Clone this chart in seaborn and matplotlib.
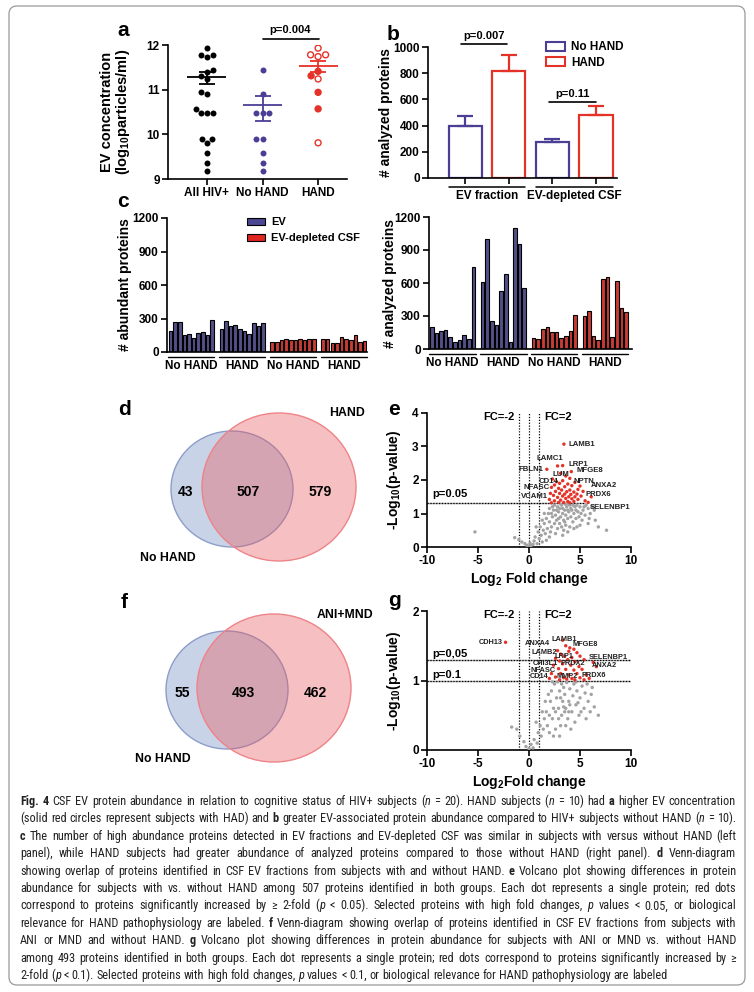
import re
import numpy as np
import pandas as pd
import matplotlib
matplotlib.use('Agg')
import matplotlib.pyplot as plt
import seaborn as sns
from matplotlib import font_manager
from matplotlib.patches import Ellipse, Patch, FancyBboxPatch

# ---------------- data ----------------
# a: EV concentration, log10 particles/ml
a_groups = ['All HIV+', 'No HAND', 'HAND']
a_all = [11.93, 11.78, 11.74, 11.78, 11.43, 11.39, 11.30, 11.24, 10.94, 10.90,
         10.57, 10.48, 10.47, 10.48, 9.89, 9.89, 9.81, 9.59, 9.36, 9.17]
a_nohand = [11.43, 10.90, 10.48, 10.47, 10.48, 9.89, 9.89, 9.59, 9.36, 9.17]
a_hand = [11.93, 11.78, 11.74, 11.78, 11.41, 11.31, 11.24, 10.94, 10.57, 9.81]
a_hand_had = [False, False, False, False, True, True, False, True, True, False]

# b: analyzed proteins, mean and SEM
b_fractions = ['EV fraction', 'EV-depleted CSF']
b_nohand_mean = [400, 278]
b_nohand_sem = [75, 22]
b_hand_mean = [815, 478]
b_hand_sem = [125, 74]

# c: per subject protein counts
c_groups = ['No HAND', 'HAND', 'No HAND', 'HAND']
c_abund_ev_nohand = [185, 265, 265, 150, 159, 124, 168, 176, 150, 291]
c_abund_ev_hand = [203, 282, 229, 238, 203, 185, 159, 256, 229, 256]
c_abund_csf_nohand = [87, 87, 105, 114, 105, 105, 114, 105, 114, 120]
c_abund_csf_hand = [114, 114, 78, 78, 132, 114, 105, 150, 94, 102]
c_anal_ev_nohand = [200, 145, 164, 173, 106, 67, 82, 127, 91, 745]
c_anal_ev_hand = [609, 1000, 255, 221, 527, 682, 67, 1100, 958, 555]
c_anal_csf_nohand = [100, 91, 182, 200, 155, 155, 100, 118, 164, 309]
c_anal_csf_hand = [300, 345, 118, 82, 639, 655, 109, 618, 373, 336]

# d, f: venn counts (left only, shared, right only)
d_sets = ['No HAND', 'HAND']
d_counts = [43, 507, 579]
f_sets = ['No HAND', 'ANI+MND']
f_counts = [55, 493, 462]

# e: volcano HAND vs No HAND  (log2 FC, -log10 p)
e_ns = [(-5.3, 0.45), (-1.4, 0.28), (-1.0, 0.22), (-0.7, 0.15), (-0.4, 0.1), (-0.2, 0.05),
        (0.0, 0.02), (0.2, 0.04), (0.4, 0.08), (0.1, 0.12), (0.5, 0.18), (0.8, 0.1),
        (0.6, 0.3), (1.0, 0.25), (1.2, 0.35), (0.9, 0.45), (1.4, 0.5), (1.1, 0.6),
        (1.6, 0.4), (1.5, 0.7), (1.8, 0.55), (1.7, 0.85), (2.0, 0.75), (1.9, 1.0),
        (2.1, 0.45), (2.3, 0.9), (2.2, 0.6), (2.4, 1.1), (2.5, 0.7), (2.6, 0.95),
        (2.5, 1.25), (2.8, 0.55), (2.7, 0.8), (2.9, 1.05), (2.8, 1.2), (3.0, 0.7),
        (3.1, 0.9), (3.0, 1.15), (3.2, 0.6), (3.3, 1.0), (3.2, 1.25), (3.4, 0.8),
        (3.5, 1.1), (3.4, 0.5), (3.6, 0.95), (3.7, 1.2), (3.6, 0.65), (3.8, 0.85),
        (3.9, 1.05), (4.0, 0.6), (4.0, 1.25), (4.1, 0.9), (4.2, 1.1), (4.3, 0.75),
        (4.4, 1.0), (4.5, 1.2), (4.6, 0.85), (4.7, 0.6), (4.8, 1.05), (4.9, 0.9),
        (5.0, 1.2), (5.2, 0.8), (5.3, 1.1), (5.5, 0.95), (5.6, 1.25), (5.8, 1.15),
        (6.0, 1.0), (6.2, 1.2), (6.5, 0.8), (7.6, 0.5), (1.3, 0.15), (2.0, 0.3),
        (2.6, 0.4), (3.8, 0.45), (4.4, 0.55), (5.0, 0.65), (5.8, 0.7), (6.8, 0.6),
        (3.3, 0.35), (1.7, 0.2), (2.3, 1.2), (2.9, 0.85), (3.5, 0.75), (4.1, 1.15),
        (4.7, 1.25), (5.4, 1.2), (1.5, 1.0), (2.0, 1.15), (1.3, 0.8), (0.7, 0.6),
        (3.1, 1.28), (3.9, 1.28), (4.6, 1.1), (5.1, 1.0), (6.4, 1.1), (5.9, 0.85),
        (2.7, 1.1), (3.3, 1.15), (3.8, 1.1), (4.3, 1.25), (2.2, 1.0), (3.6, 1.27)]
e_up = [(3.42, 3.07), (2.8, 2.42), (3.3, 2.43), (1.75, 2.32), (4.15, 2.25), (3.1, 2.2),
        (3.6, 2.12), (2.3, 2.03), (4.0, 2.05), (3.3, 1.98), (2.7, 1.95), (4.5, 1.93),
        (3.0, 1.9), (3.8, 1.88), (2.5, 1.85), (4.2, 1.83), (3.5, 1.8), (5.0, 1.82),
        (2.2, 1.78), (2.9, 1.75), (4.8, 1.72), (3.2, 1.7), (4.0, 1.7), (2.6, 1.66),
        (3.7, 1.65), (4.4, 1.64), (5.3, 1.66), (2.1, 1.6), (3.0, 1.6), (3.5, 1.58),
        (4.1, 1.57), (4.7, 1.58), (2.4, 1.54), (3.3, 1.52), (3.9, 1.5), (4.5, 1.5),
        (5.1, 1.52), (2.8, 1.48), (3.6, 1.45), (4.2, 1.44), (2.0, 1.42), (3.1, 1.4),
        (4.8, 1.42), (2.5, 1.38), (3.8, 1.36), (4.4, 1.36), (5.5, 1.38), (2.9, 1.33),
        (3.4, 1.33), (4.0, 1.32), (2.2, 1.32), (5.8, 1.33), (6.1, 1.5)]
e_label_names = ['LAMB1', 'LAMC1', 'LRP1', 'FBLN1', 'MFGE8', 'LUM', 'NPTN', 'CD14',
                 'ANXA2', 'NFASC', 'PRDX6', 'VCAM1', 'SELENBP1']
e_label_x = [3.85, 0.74, 3.85, -1.06, 4.66, 2.3, 4.4, 0.9, 6.04, -0.5, 5.58, -0.8, 5.97]
e_label_y = [3.07, 2.63, 2.47, 2.30, 2.27, 2.15, 1.96, 1.97, 1.85, 1.77, 1.58, 1.51, 1.19]

# g: volcano ANI+MND vs No HAND
g_ns = [(-1.7, 0.33), (-1.2, 0.3), (-0.9, 0.2), (-0.5, 0.12), (-0.3, 0.05), (0.0, 0.02),
        (0.2, 0.08), (0.4, 0.03), (0.5, 0.15), (0.8, 0.1), (0.9, 0.25), (1.2, 0.2),
        (1.1, 0.35), (1.4, 0.3), (1.5, 0.45), (1.8, 0.35), (1.7, 0.55), (2.0, 0.5),
        (2.1, 0.7), (2.3, 0.45), (2.4, 0.6), (2.2, 0.85), (2.6, 0.55), (2.7, 0.75),
        (2.5, 0.95), (2.9, 0.6), (3.0, 0.85), (2.8, 0.98), (3.2, 0.5), (3.3, 0.7),
        (3.4, 0.9), (3.6, 0.6), (3.5, 0.8), (3.7, 0.97), (3.8, 0.45), (3.9, 0.7),
        (4.0, 0.88), (4.2, 0.55), (4.3, 0.78), (4.4, 0.95), (4.6, 0.65), (4.7, 0.85),
        (4.9, 0.5), (5.0, 0.75), (5.2, 0.92), (5.4, 0.6), (5.5, 0.82), (5.8, 0.7),
        (6.0, 0.55), (6.2, 0.9), (6.4, 0.62), (6.8, 0.5), (3.1, 0.35), (2.0, 0.25),
        (2.6, 0.3), (4.5, 0.4), (5.6, 0.45), (1.6, 0.7), (1.9, 0.8), (3.6, 0.35),
        (4.1, 0.3), (3.0, 0.2), (2.4, 0.2), (1.3, 0.55), (0.7, 0.4), (2.9, 0.45),
        (3.5, 0.55), (4.8, 0.68), (5.1, 0.55), (5.7, 0.95), (6.1, 0.8), (3.2, 0.95),
        (4.6, 0.98), (2.3, 0.98), (3.9, 0.55), (3.1, 0.75), (4.0, 0.65), (3.4, 0.62)]
g_up = [(-2.3, 1.55), (3.3, 1.58), (3.6, 1.5), (4.0, 1.47), (4.4, 1.45), (3.9, 1.42),
        (2.8, 1.43), (3.1, 1.38), (4.7, 1.4), (3.5, 1.35), (4.2, 1.33), (5.0, 1.35),
        (2.6, 1.32), (3.0, 1.28), (3.8, 1.3), (4.5, 1.27), (5.4, 1.3), (2.4, 1.22),
        (3.3, 1.24), (4.1, 1.22), (4.9, 1.2), (6.3, 1.26), (6.6, 1.2), (2.9, 1.17),
        (3.6, 1.16), (4.4, 1.15), (5.2, 1.16), (2.2, 1.1), (3.1, 1.1), (3.9, 1.08),
        (4.7, 1.1), (5.6, 1.08), (2.6, 1.05), (3.4, 1.04), (4.2, 1.03), (5.0, 1.04),
        (5.9, 1.03), (2.0, 1.03), (3.0, 1.01), (3.7, 1.02), (4.5, 1.01), (5.4, 1.01)]
g_label_names = ['CDH13', 'ANXA4', 'LAMB1', 'MFGE8', 'LAMB2', 'LRP1', 'SELENBP1',
                 'CHI3L1', 'PRDX2', 'ANXA2', 'NFASC', 'CD14', 'MMP2', 'PRDX6']
g_label_x = [-2.6, -0.41, 2.21, 4.27, 0.25, 2.54, 5.81, 0.34, 3.13, 6.14, 0.15, 0.08, 2.7, 5.16]
g_label_y = [1.55, 1.53, 1.59, 1.52, 1.40, 1.35, 1.33, 1.25, 1.24, 1.21, 1.15, 1.06, 1.06, 1.07]

cap_lines = [
    "**Fig.** **4** CSF EV protein abundance in relation to cognitive status of HIV+ subjects (*n* = 20). HAND subjects (*n* = 10) had **a** higher EV concentration",
    "(solid red circles represent subjects with HAD) and **b** greater EV-associated protein abundance compared to HIV+ subjects without HAND (*n* = 10).",
    "**c** The number of high abundance proteins detected in EV fractions and EV-depleted CSF was similar in subjects with versus without HAND (left",
    "panel), while HAND subjects had greater abundance of analyzed proteins compared to those without HAND (right panel). **d** Venn-diagram",
    "showing overlap of proteins identified in CSF EV fractions from subjects with and without HAND. **e** Volcano plot showing differences in protein",
    "abundance for subjects with vs. without HAND among 507 proteins identified in both groups. Each dot represents a single protein; red dots",
    "correspond to proteins significantly increased by \u2265 2-fold (*p* < 0.05). Selected proteins with high fold changes, *p* values < 0.05, or biological",
    "relevance for HAND pathophysiology are labeled. **f** Venn-diagram showing overlap of proteins identified in CSF EV fractions from subjects with",
    "ANI or MND and without HAND. **g** Volcano plot showing differences in protein abundance for subjects with ANI or MND vs. without HAND",
    "among 493 proteins identified in both groups. Each dot represents a single protein; red dots correspond to proteins significantly increased by \u2265",
    "2-fold (*p* < 0.1). Selected proteins with high fold changes, *p* values < 0.1, or biological relevance for HAND pathophysiology are labeled",
]

# ---------------- style ----------------
W, H = 754, 992
PURPLE = '#4A3F95'
RED = '#E53228'
EV_FILL = '#4B4791'
CSF_FILL = '#E0251E'
GRAY = '#A3A3A3'

sns.set_theme(style='ticks')
plt.rcParams.update({
    'font.family': ['Liberation Sans', 'DejaVu Sans'],
    'font.weight': 'bold',
    'axes.labelweight': 'bold',
    'mathtext.fontset': 'custom',
    'mathtext.rm': 'Liberation Sans:bold',
    'mathtext.it': 'Liberation Sans:bold:italic',
    'mathtext.bf': 'Liberation Sans:bold',
    'axes.linewidth': 1.2,
    'axes.edgecolor': 'black',
    'axes.labelcolor': 'black',
    'text.color': 'black',
    'xtick.color': 'black',
    'ytick.color': 'black',
    'axes.unicode_minus': False,
})

fig = plt.figure(figsize=(W / 100, H / 100), dpi=100)
ov = fig.add_axes([0, 0, 1, 1])
ov.set_xlim(0, W)
ov.set_ylim(H, 0)
ov.axis('off')


def px_axes(left, top, right, bottom):
    return fig.add_axes([left / W, 1 - bottom / H, (right - left) / W, (bottom - top) / H])


def style(ax, size=8.5):
    sns.despine(ax=ax)
    ax.tick_params(direction='out', length=4, width=1.2, labelsize=size, pad=2)
    ax.set_facecolor('none')


# ---------------- a ----------------
ax = px_axes(168, 45, 347, 179)
a_colors = ['black', PURPLE, RED]
for i, (grp, vals, col) in enumerate(zip(a_groups, [a_all, a_nohand, a_hand], a_colors)):
    sub = pd.DataFrame({'group': grp, 'value': vals})
    sns.swarmplot(data=sub, x='group', y='value', order=a_groups, color=col, size=4.3, ax=ax)
    pts = ax.collections[-1]
    if grp == 'No HAND':
        pts.set_facecolors(['white'] * len(vals))
        pts.set_edgecolors(col)
        pts.set_linewidths(1.0)
    elif grp == 'HAND':
        pts.set_facecolors([RED if s else 'white' for s in a_hand_had])
        pts.set_edgecolors(col)
        pts.set_linewidths(1.0)
    lin = 10 ** np.array(vals)
    m = lin.mean()
    s = lin.std(ddof=1) / np.sqrt(len(lin))
    ax.hlines(np.log10(m), i - 0.35, i + 0.35, color=col, lw=1.3, zorder=5)
    ax.errorbar(i, np.log10(m), yerr=[[np.log10(m) - np.log10(m - s)], [np.log10(m + s) - np.log10(m)]],
                fmt='none', ecolor=col, elinewidth=1.3, capsize=6, capthick=1.3, zorder=5)
ax.set_xlim(-0.7, 2.52)
ax.set_ylim(9, 12)
ax.set_yticks([9, 10, 11, 12])
ax.set_xlabel('')
ax.set_ylabel('EV concentration\n(log$_{10}$particles/ml)', fontsize=10.5, linespacing=1.0)
ax.yaxis.set_label_coords(-0.2, 0.5)
style(ax)
ax.plot([1.0, 2.02], [12.13, 12.13], color='black', lw=1.2, clip_on=False)
ax.text(1.5, 12.22, 'p=0.004', ha='center', va='bottom', fontsize=8)

# ---------------- b ----------------
ax = px_axes(428, 47, 617, 178)
b_bars = []
for k, frac in enumerate(b_fractions):
    b_bars.append((frac + ' No HAND', b_nohand_mean[k], b_nohand_sem[k], PURPLE))
    b_bars.append((frac + ' HAND', b_hand_mean[k], b_hand_sem[k], RED))
df_b = pd.DataFrame(b_bars, columns=['bar', 'mean', 'sem', 'color'])
sns.barplot(data=df_b, x='bar', y='mean', hue='bar', palette=list(df_b['color']), fill=False,
            linewidth=1.6, width=0.76, errorbar=None, legend=False, ax=ax)
for i, row in df_b.iterrows():
    ax.errorbar(i, row['mean'], yerr=[[0], [row['sem']]], fmt='none', ecolor=row['color'],
                elinewidth=1.6, capsize=6, capthick=1.6, zorder=1)
ax.set_xlim(-0.85, 3.48)
ax.set_ylim(0, 1000)
ax.set_yticks(range(0, 1001, 200))
ax.set_xticks(range(4))
ax.set_xticklabels([''] * 4)
ax.set_xlabel('')
ax.set_ylabel('# analyzed proteins', fontsize=10)
ax.yaxis.set_label_coords(-0.185, 0.5)
style(ax)
trans = ax.get_xaxis_transform()
for k, frac in enumerate(b_fractions):
    ax.plot([2 * k - 0.38, 2 * k + 1.38], [-0.069, -0.069], transform=trans, color='black', lw=1.1, clip_on=False)
    ax.text(2 * k + 0.5, -0.135, frac, transform=trans, ha='center', va='center', fontsize=8.5)
ax.plot([-0.09, 0.96], [1025, 1025], color='black', lw=1.2, clip_on=False)
ax.text(0.43, 1045, 'p=0.007', ha='center', va='bottom', fontsize=8, clip_on=False)
ax.plot([1.92, 2.99], [580, 580], color='black', lw=1.2)
ax.text(2.45, 600, 'p=0.11', ha='center', va='bottom', fontsize=8)
handles = [Patch(facecolor='white', edgecolor=PURPLE, linewidth=1.5, label='No HAND'),
           Patch(facecolor='white', edgecolor=RED, linewidth=1.5, label='HAND')]
ax.legend(handles=handles, loc='upper left', bbox_to_anchor=(0.6, 1.08), frameon=False,
          fontsize=8.5, handlelength=1.6, handleheight=0.8, handletextpad=0.5, labelspacing=0.3,
          borderaxespad=0)


# ---------------- c ----------------
def count_panel(ax, groups_vals, ylabel, label_x, legend):
    rows = []
    for g, vals in enumerate(groups_vals):
        for j, v in enumerate(vals):
            rows.append({'pos': g * 11 + j, 'count': v, 'frac': 'EV' if g < 2 else 'EV-depleted CSF'})
    df = pd.DataFrame(rows)
    sns.barplot(data=df, x='pos', y='count', hue='frac', native_scale=True, dodge=False,
                palette={'EV': EV_FILL, 'EV-depleted CSF': CSF_FILL}, width=0.78,
                edgecolor='black', linewidth=0.8, errorbar=None, legend=False, ax=ax)
    ax.set_ylim(0, 1200)
    ax.set_yticks(range(0, 1201, 300))
    ax.set_xticks([])
    ax.set_xlabel('')
    ax.set_ylabel(ylabel, fontsize=10)
    ax.yaxis.set_label_coords(label_x, 0.5)
    style(ax)
    tr = ax.get_xaxis_transform()
    for g, name in enumerate(c_groups):
        x0, x1 = g * 11 - 0.5, g * 11 + 9.5
        ax.plot([x0, x1], [-0.04, -0.04], transform=tr, color='black', lw=1.0, clip_on=False)
        ax.text((x0 + x1) / 2, -0.105, name, transform=tr, ha='center', va='center', fontsize=8.5)
    if legend:
        hs = [Patch(facecolor=EV_FILL, edgecolor='black', linewidth=0.8, label='EV'),
              Patch(facecolor=CSF_FILL, edgecolor='black', linewidth=0.8, label='EV-depleted CSF')]
        ax.legend(handles=hs, loc='upper left', bbox_to_anchor=(0.38, 1.04), frameon=False,
                  fontsize=8, handlelength=1.6, handleheight=0.6, handletextpad=0.5,
                  labelspacing=0.55, borderaxespad=0)


ax = px_axes(167, 218, 367, 352)
count_panel(ax, [c_abund_ev_nohand, c_abund_ev_hand, c_abund_csf_nohand, c_abund_csf_hand],
            '# abundant proteins', -0.175, True)
ax.set_xlim(-0.75, 42.5)
ax = px_axes(429, 217, 632, 349)
count_panel(ax, [c_anal_ev_nohand, c_anal_ev_hand, c_anal_csf_nohand, c_anal_csf_hand],
            '# analyzed proteins', -0.158, False)
ax.set_xlim(-0.6, 43.3)


# ---------------- e, g ----------------
def volcano(ax, ns, up, names, lx, ly, ymax, lab_size, hlines, hline_end, fc_y, xlabel):
    df = pd.DataFrame({'fc': [p[0] for p in ns] + [p[0] for p in up],
                       'logp': [p[1] for p in ns] + [p[1] for p in up],
                       'kind': ['ns'] * len(ns) + ['up'] * len(up)})
    sns.scatterplot(data=df, x='fc', y='logp', hue='kind', palette={'ns': GRAY, 'up': RED},
                    s=6, linewidth=0, legend=False, ax=ax, zorder=3)
    for xv in (-1, 0, 1):
        ax.axvline(xv, color='black', lw=0.9, ls=(0, (1, 1.3)), zorder=2)
    for yv, txt, ty in hlines:
        ax.plot([-10, hline_end], [yv, yv], color='#9a9a9a', lw=1.0, zorder=1)
        ax.plot([-10, hline_end], [yv, yv], color='black', lw=0.9, ls=(0, (1, 1.3)), zorder=2)
        ax.text(-9.5, ty, txt, fontsize=8, ha='left', va='center')
    ax.text(-1.4, fc_y, 'FC=-2', fontsize=8, ha='right', va='center')
    ax.text(1.5, fc_y, 'FC=2', fontsize=8, ha='left', va='center')
    for n, x, y in zip(names, lx, ly):
        ax.text(x, y, n, fontsize=lab_size, ha='right' if n == 'CDH13' else 'left',
                va='center', color='#222222', zorder=4)
    ax.set_xlim(-10, 10)
    ax.set_ylim(0, ymax)
    ax.set_xticks([-10, -5, 0, 5, 10])
    ax.set_yticks(range(0, ymax + 1))
    ax.set_xlabel(xlabel, fontsize=10, labelpad=2)
    ax.set_ylabel('-Log$_{10}$(p-value)', fontsize=10)
    ax.yaxis.set_label_coords(-0.12, 0.5)
    style(ax)


ax = px_axes(427, 413, 631, 547)
volcano(ax, e_ns, e_up, e_label_names, e_label_x, e_label_y, 4, 5.6,
        [(1.3, 'p=0.05', 1.57)], 5.5, 3.88, 'Log$_2$ Fold change')
ax = px_axes(427, 611, 631, 750)
volcano(ax, g_ns, g_up, g_label_names, g_label_x, g_label_y, 2, 5.3,
        [(1.3, 'p=0,05', 1.38), (1.0, 'p=0.1', 1.08)], 10, 1.94, 'Log$_2$Fold change')

# ---------------- venn d, f ----------------
BLUE_FILL = '#C9D3E8'
BLUE_EDGE = '#8C9DC9'
RED_FILL = (233 / 255, 85 / 255, 90 / 255, 0.37)
RED_EDGE = '#EE8388'


def venn(blue_c, blue_r, red_c, red_r, counts, count_xy, sets, set_xy, set_ha):
    ov.add_patch(Ellipse(blue_c, 2 * blue_r[0], 2 * blue_r[1], fc=BLUE_FILL, ec=BLUE_EDGE, lw=1.0))
    ov.add_patch(Ellipse(red_c, 2 * red_r[0], 2 * red_r[1], fc=RED_FILL, ec=RED_EDGE, lw=1.0))
    for n, (x, y) in zip(counts, count_xy):
        ov.text(x, y, str(n), fontsize=10, ha='center', va='center')
    for name, (x, y), ha in zip(sets, set_xy, set_ha):
        ov.text(x, y, name, fontsize=8.8, ha=ha, va='center')


venn((232, 489), (61, 58), (279, 487), (77, 74), d_counts,
     [(186, 492), (248, 492), (320, 492)], d_sets, [(168, 558), (347, 413)], ['center', 'center'])
venn((227, 690), (61, 59), (274, 688), (77, 74), f_counts,
     [(182, 693), (243, 693), (315, 693)], f_sets, [(163, 759), (317, 615)], ['center', 'left'])

# ---------------- panel letters ----------------
letters = {'a': (117, 36), 'b': (387, 40), 'c': (117, 207), 'd': (118, 415),
           'e': (388, 415), 'f': (121, 608), 'g': (388, 606)}
for letter, (x, y) in letters.items():
    ov.text(x, y, letter, fontsize=15, weight='bold', ha='left', va='baseline')


# ---------------- caption ----------------
def parse_caption(line):
    words = []
    for w in line.split(' '):
        pieces = []
        for part in re.split(r'(\*\*.+?\*\*|\*.+?\*)', w):
            if not part:
                continue
            if part.startswith('**'):
                pieces.append((part[2:-2], 'bold'))
            elif part.startswith('*'):
                pieces.append((part[1:-1], 'italic'))
            else:
                pieces.append((part, 'normal'))
        words.append(pieces)
    return words


names = {f.name for f in font_manager.fontManager.ttflist}
cap_family = next(f for f in ['Liberation Sans Narrow', 'Roboto Condensed', 'Open Sans Condensed',
                              'Liberation Sans'] if f in names)
renderer = fig.canvas.get_renderer()


def text_width(txt, sty, size):
    t = ov.text(0, 0, txt, fontsize=size, family=[cap_family, 'DejaVu Sans'],
                weight='bold' if sty == 'bold' else 'normal',
                style='italic' if sty == 'italic' else 'normal')
    w = t.get_window_extent(renderer).width
    t.remove()
    return w


x0, x1, y0, dy = 20, 736, 805, 17.4
parsed = [parse_caption(l) for l in cap_lines]
sp10 = text_width('n n', 'normal', 10) - text_width('nn', 'normal', 10)
natural = [sum(text_width(t, s, 10) for word in words for t, s in word) + sp10 * (len(words) - 1)
           for words in parsed]
cap_size = min(9.5, 10 * (x1 - x0) * 0.975 / max(natural))
sp = sp10 * cap_size / 10
for k, words in enumerate(parsed):
    y = y0 + k * dy
    wl = [[(t, s, text_width(t, s, cap_size)) for t, s in word] for word in words]
    total = sum(w for word in wl for _, _, w in word)
    gap = sp if k == len(parsed) - 1 else (x1 - x0 - total) / (len(words) - 1)
    x = x0
    for word in wl:
        for t, s, w in word:
            ov.text(x, y, t, fontsize=cap_size, family=[cap_family, 'DejaVu Sans'],
                    weight='bold' if s == 'bold' else 'normal',
                    style='italic' if s == 'italic' else 'normal',
                    color='#222222', ha='left', va='baseline')
            x += w
        x += gap

ov.add_patch(FancyBboxPatch((9, 6), 736, 979, boxstyle='round,pad=0,rounding_size=8',
                            fc='none', ec='#9a9a9a', lw=0.9))

fig.savefig('out.png', dpi=100)
